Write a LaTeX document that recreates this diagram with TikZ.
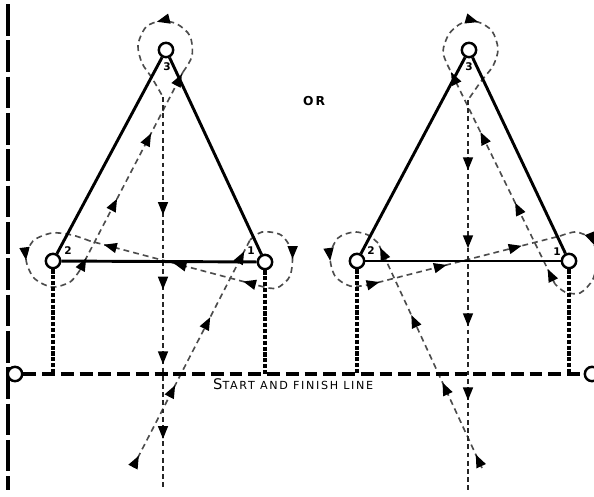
\documentclass[tikz,border=0pt]{standalone}
\usepackage{fontspec}
\usetikzlibrary{arrows.meta,decorations.markings}
\newfontfamily\etiq[LetterSpace=15]{DejaVu Sans}

\begin{document}
\begin{tikzpicture}[
    x=0.03cm, y=-0.03cm,
    cone/.style={circle, draw, line width=2.1pt, fill=white, inner sep=0pt,
        minimum size=4.3mm},
    cote/.style={line width=2.5pt},
    piste/.style={dash pattern=on 5pt off 3.5pt, line width=1.4pt, black!70},
    axe/.style={dash pattern=on 4pt off 3pt, line width=1.4pt, black!85},
    aplomb/.style={dash pattern=on 3.5pt off 1.5pt, line width=2.6pt},
    ligne/.style={dash pattern=on 11pt off 5pt, line width=3pt},
    bord/.style={dash pattern=on 27pt off 4pt, line width=3pt},
    fl/.style={postaction={decorate, decoration={markings,
        mark=at position #1 with {\arrow[black]{Triangle[length=11pt,width=8.5pt]}}}}},
    num/.style={font=\etiq\bfseries\fontsize{9}{9}\selectfont, inner sep=0pt}
]
    \useasboundingbox (0,0) rectangle (594,496);

    % runner paths, left figure
    \draw[piste, fl=0.05, fl=0.36, fl=0.66, fl=0.95] (133,467) -- (250,240);
    \draw[piste, fl=0.56] plot[smooth] coordinates {(250,240) (262,232) (281,235)
        (292,252) (290,276) (277,288) (264,287)};
    \draw[piste, fl=0.12, fl=0.52, fl=0.92] (264,287) -- (90,241);
    \draw[piste, fl=0.52] plot[smooth] coordinates {(90,241) (72,235) (52,233)
        (33,241) (26,259) (34,278) (52,287) (70,282) (80,270)};
    \draw[piste, fl=0.06, fl=0.36, fl=0.69, fl=0.99] (80,270) -- (183,72);
    \draw[piste, fl=0.46] plot[smooth] coordinates {(183,72) (192,56)
        (190,36) (177,24) (161,21) (146,27) (138,45) (142,63) (152,78) (163,97)};
    \draw[axe, fl=0.3, fl=0.49, fl=0.68, fl=0.87] (163,97) -- (163,490);

    % runner paths, right figure
    \draw[piste, fl=0.06, fl=0.38, fl=0.68, fl=0.98] (482,468) -- (378,243);
    \draw[piste, fl=0.57] plot[smooth] coordinates {(378,243) (368,235) (354,232)
        (338,238) (330,256) (335,276) (350,286) (368,285)};
    \draw[piste, fl=0.06, fl=0.41, fl=0.8] (368,285) -- (560,236);
    \draw[piste, fl=0.33] plot[smooth] coordinates {(560,236) (576,232) (591,239)
        (597,256) (593,279) (580,293) (565,292) (555,284)};
    \draw[piste, fl=0.07, fl=0.38, fl=0.71, fl=0.99] (555,284) -- (450,70);
    \draw[piste, fl=0.43] plot[smooth] coordinates {(450,70) (443,52)
        (449,34) (462,23) (478,22) (492,31) (498,49) (493,66) (482,80) (468,100)};
    \draw[axe, fl=0.18, fl=0.38, fl=0.58, fl=0.77] (468,100) -- (468,490);

    % boundary and start line
    \draw[bord] (8,4) -- (8,490);
    \node[cone] (dl) at (15,374) {};
    \node[cone] (dr) at (592,374) {};
    \draw[ligne] (dl) -- (dr);

    % triangles
    \node[cone] (g3) at (166,50) {};
    \node[cone] (g2) at (53,261) {};
    \node[cone] (g1) at (265,262) {};
    \node[cone] (d3) at (469,50) {};
    \node[cone] (d2) at (357,261) {};
    \node[cone] (d1) at (569,261) {};
    \draw[cote] (g3) -- (g2);
    \draw[cote] (g2) -- (g1);
    \draw[cote] (g1) -- (g3);
    \draw[cote] (d3) -- (d2);
    \draw[cote] (d2) -- (d1);
    \draw[cote] (d1) -- (d3);
    \draw[aplomb] (g2) -- (g2 |- dl);
    \draw[aplomb] (g1) -- (g1 |- dl);
    \draw[aplomb] (d2) -- (d2 |- dl);
    \draw[aplomb] (d1) -- (d1 |- dl);

    \node[num] at (167,67) {3};
    \node[num] at (68,251) {2};
    \node[num] at (251,251) {1};
    \node[num] at (469,67) {3};
    \node[num] at (371,251) {2};
    \node[num] at (557,252) {1};

    \node[anchor=base west, inner sep=0pt] at (303,105)
        {\etiq\bfseries\fontsize{10.5}{10.5}\selectfont OR};
    \node[anchor=base west, inner sep=0pt] at (213,389)
        {\etiq{\fontsize{12.5}{12.5}\selectfont S}{\fontsize{9.5}{9.5}\selectfont TART AND FINISH LINE}};
\end{tikzpicture}
\end{document}
